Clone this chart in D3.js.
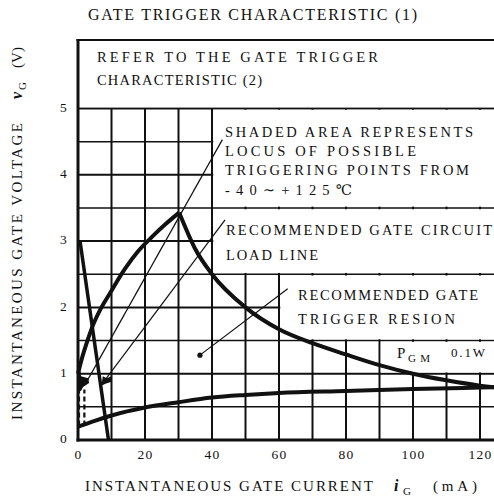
<!DOCTYPE html>
<html>
<head>
<meta charset="utf-8">
<script src="https://cdn.jsdelivr.net/npm/d3@7/dist/d3.min.js"></script>
<style>
  html, body { margin: 0; padding: 0; background: #fff; }
  svg { display: block; }
  text { font-family: "Liberation Serif", "DejaVu Serif", serif; fill: #111; }
</style>
</head>
<body>
<div id="chart"></div>
<script>
// tick values (mA and V)
const xTicks = [0, 20, 40, 60, 80, 100, 120];
const yTicks = [0, 1, 2, 3, 4, 5];

// upper boundary, rising part [mA, V]
const upperRise = [[0, 1.0], [1, 1.2], [2.5, 1.45], [4.3, 1.71], [7, 2.0], [9.5, 2.21],
    [14, 2.58], [18, 2.85], [22, 3.06], [26, 3.25], [30.2, 3.43]];
// PGM 0.1 W curve
const pgmCurve = [[30.2, 3.43], [35, 2.88], [40, 2.5], [50, 2.0], [60, 1.67], [70, 1.46],
    [80, 1.29], [90, 1.13], [100, 1.0], [110, 0.9], [120, 0.82], [130, 0.77]];
// lower boundary
const lowerCurve = [[0, 0.2], [5, 0.29], [10, 0.37], [20, 0.49], [30, 0.57], [40, 0.64],
    [50, 0.68], [60, 0.71], [80, 0.74], [100, 0.77], [120, 0.79], [130, 0.8]];
// gate circuit load line
const loadLine = [[0.6, 3.0], [9.1, 0]];
// shaded trigger loci
const shadeLeft = [[0, 0.75], [0, 1.16], [0.6, 1.1], [0.9, 0.96], [3.1, 0.93], [3.3, 0.86],
    [1.5, 0.8], [0.9, 0.74]];
const shadeRight = [[7.0, 0.82], [7.4, 0.96], [8.6, 0.93], [10.2, 0.97], [10.0, 0.88], [8.2, 0.85]];
const dashedLoci = [0.3, 1.9];
// leader lines [from, to]
const leaders = [
    [[43.1, 4.53], [2.6, 0.88]],
    [[43.9, 3.32], [8.0, 0.9]],
    [[62.6, 2.28], [36.4, 1.28]]
];
const leaderDot = [36.4, 1.28];
// text boxes that hide the grid [i0, i1, v0, v1]
const maskBoxes = [[0, 130, 5, 6.1], [40, 130, 3.5, 5], [40, 130, 2.5, 3.5],
    [60, 130, 1.5, 2.5], [90, 130, 1, 1.5]];

const title = "GATE TRIGGER CHARACTERISTIC (1)";
const noteRefer = ["REFER TO THE GATE TRIGGER", "CHARACTERISTIC (2)"];
const noteShaded = ["SHADED AREA REPRESENTS", "LOCUS OF POSSIBLE", "TRIGGERING POINTS FROM", "-40\u223C+125\u2103"];
const noteLoad = ["RECOMMENDED GATE CIRCUIT", "LOAD LINE"];
const noteRegion = ["RECOMMENDED GATE", "TRIGGER RESION"];

const W = 494, H = 498;

const svg = d3.select("#chart").append("svg")
    .attr("width", W).attr("height", H);
svg.append("rect").attr("width", W).attr("height", H).attr("fill", "#fff");

const x = d3.scaleLinear().domain([0, 120]).range([78, 480]);
const y = d3.scaleLinear().domain([0, 5]).range([440, 108.5]);

drawGrid();
drawMasks();
drawCurves();
drawFrame();
drawAxes();
drawNotes();

/** grid: every 10 mA and every 0.5 V */
function drawGrid() {
    const g = svg.append("g").attr("class", "grid").attr("stroke", "#111");
    g.selectAll("line.v").data(d3.range(10, 131, 10)).enter().append("line")
        .attr("class", "v")
        .attr("x1", d => x(d)).attr("x2", d => x(d))
        .attr("y1", y(0)).attr("y2", y(5))
        .attr("stroke-width", 2);
    g.selectAll("line.h").data(d3.range(0.5, 5.01, 0.5)).enter().append("line")
        .attr("class", "h")
        .attr("x1", x(0)).attr("x2", x(130))
        .attr("y1", d => y(d)).attr("y2", d => y(d))
        .attr("stroke-width", d => Number.isInteger(d) ? 2 : 1.5);
}

/** white areas behind the notes, the grid lines on their edges stay */
function drawMasks() {
    svg.append("g").selectAll("rect").data(maskBoxes).enter().append("rect")
        .attr("x", d => x(d[0]) + 1.3)
        .attr("width", d => x(d[1]) - x(d[0]) - 2.6)
        .attr("y", d => y(d[3]) + 1.3)
        .attr("height", d => y(d[2]) - y(d[3]) - 2.6)
        .attr("fill", "#fff");
}

function drawCurves() {
    const line = d3.line().x(d => x(d[0])).y(d => y(d[1]));
    const smooth = d3.line().x(d => x(d[0])).y(d => y(d[1])).curve(d3.curveMonotoneX);
    const g = svg.append("g").attr("fill", "none").attr("stroke", "#111");

    g.append("path").attr("d", smooth(upperRise)).attr("stroke-width", 4);
    g.append("path").attr("d", smooth(pgmCurve)).attr("stroke-width", 4);
    g.append("path").attr("d", smooth(lowerCurve)).attr("stroke-width", 4);
    g.append("path").attr("d", line(loadLine)).attr("stroke-width", 3.5);

    g.selectAll("line.dash").data(dashedLoci).enter().append("line")
        .attr("x1", d => x(d)).attr("x2", d => x(d))
        .attr("y1", y(0.22)).attr("y2", y(0.76))
        .attr("stroke-width", 2.2)
        .attr("stroke-dasharray", "5,3");

    g.selectAll("line.leader").data(leaders).enter().append("line")
        .attr("x1", d => x(d[0][0])).attr("y1", d => y(d[0][1]))
        .attr("x2", d => x(d[1][0])).attr("y2", d => y(d[1][1]))
        .attr("stroke-width", 1.2);

    svg.append("g").attr("fill", "#111").selectAll("path")
        .data([shadeLeft, shadeRight]).enter().append("path")
        .attr("d", d => line(d) + "Z");

    svg.append("circle")
        .attr("cx", x(leaderDot[0])).attr("cy", y(leaderDot[1]))
        .attr("r", 2.6).attr("fill", "#111");
}

function drawFrame() {
    const g = svg.append("g").attr("stroke", "#111");
    g.append("line").attr("x1", x(0)).attr("x2", x(0)).attr("y1", 39).attr("y2", y(0) + 1.5)
        .attr("stroke-width", 3);
    g.append("line").attr("x1", x(0) - 1.5).attr("x2", W).attr("y1", 40).attr("y2", 40)
        .attr("stroke-width", 2);
    g.append("line").attr("x1", x(0) - 1.5).attr("x2", W).attr("y1", y(0)).attr("y2", y(0))
        .attr("stroke-width", 3);
}

function drawAxes() {
    const bottom = svg.append("g")
        .attr("transform", `translate(0,${y(0)})`)
        .call(d3.axisBottom(x).tickValues(xTicks).tickFormat(d3.format("d"))
            .tickSize(0).tickPadding(9));
    const left = svg.append("g")
        .attr("transform", `translate(${x(0)},0)`)
        .call(d3.axisLeft(y).tickValues(yTicks).tickFormat(d3.format("d"))
            .tickSize(0).tickPadding(10));
    [bottom, left].forEach(a => {
        a.select(".domain").remove();
        a.selectAll("text")
            .style("font-family", "\"Liberation Serif\", serif")
            .style("font-size", "13.5px")
            .style("letter-spacing", "1.2px")
            .attr("fill", "#111");
    });
    left.selectAll("text").attr("dy", "0.2em");

    // axis titles
    svg.append("text").attr("x", 85).attr("y", 491)
        .attr("textLength", 288).attr("lengthAdjust", "spacing")
        .style("font-size", "15px").text("INSTANTANEOUS GATE CURRENT");
    svg.append("text").attr("x", 394).attr("y", 491)
        .style("font-size", "16px").style("font-style", "italic").style("font-weight", "bold")
        .text("i");
    svg.append("text").attr("x", 403).attr("y", 495)
        .style("font-size", "11px").text("G");
    svg.append("text").attr("x", 433).attr("y", 491)
        .attr("textLength", 44).attr("lengthAdjust", "spacing")
        .style("font-size", "15px").text("(mA)");

    const yl = svg.append("g").attr("transform", "translate(22,420) rotate(-90)");
    yl.append("text").attr("x", 0).attr("y", 0)
        .attr("textLength", 297).attr("lengthAdjust", "spacing")
        .style("font-size", "15px").text("INSTANTANEOUS GATE VOLTAGE");
    yl.append("text").attr("x", 321).attr("y", 0)
        .style("font-size", "16px").style("font-style", "italic").style("font-weight", "bold")
        .text("v");
    yl.append("text").attr("x", 330).attr("y", 4)
        .style("font-size", "11px").text("G");
    yl.append("text").attr("x", 352).attr("y", 0)
        .attr("textLength", 21).attr("lengthAdjust", "spacing")
        .style("font-size", "15px").text("(V)");
}

/** writes lines of a note, each stretched to its measured width */
function note(lines, x0, baselines, widths, size) {
    svg.append("g").selectAll("text").data(lines).enter().append("text")
        .attr("x", x0)
        .attr("y", (d, i) => baselines[i])
        .attr("textLength", (d, i) => widths[i])
        .attr("lengthAdjust", "spacing")
        .style("font-size", size + "px")
        .text(d => d);
}

function drawNotes() {
    svg.append("text").attr("x", 88).attr("y", 20)
        .attr("textLength", 329).attr("lengthAdjust", "spacing")
        .style("font-size", "16px").text(title);

    note(noteRefer, 97, [62, 85], [281, 165], 14.5);
    note(noteShaded, 225, [137, 156, 175, 195], [248, 191, 244, 127], 14.5);
    note(noteLoad, 226, [235, 260], [266, 92], 14.5);
    note(noteRegion, 298, [300, 324], [180, 157], 14.5);

    svg.append("text").attr("x", 397).attr("y", 358).style("font-size", "15px").text("P");
    svg.append("text").attr("x", 408).attr("y", 362)
        .attr("textLength", 22).attr("lengthAdjust", "spacing")
        .style("font-size", "11px").text("GM");
    svg.append("text").attr("x", 451).attr("y", 357)
        .attr("textLength", 34).attr("lengthAdjust", "spacing")
        .style("font-size", "13px").text("0.1W");
}
</script>
</body>
</html>
